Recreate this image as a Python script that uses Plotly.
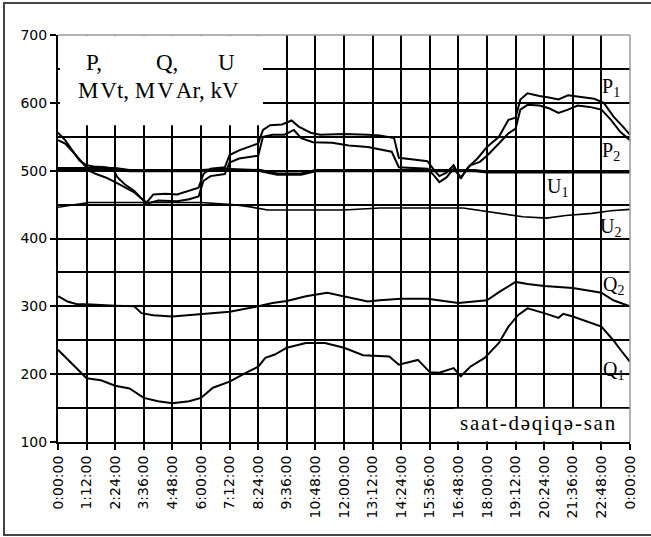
import plotly.graph_objects as go

# time in hours
p1_t = [0, 0.3, 0.6, 0.9, 1.2, 1.5, 2.0, 2.3, 2.5, 2.8, 3.2, 3.5, 3.7, 4.0, 4.5, 5.0, 5.5, 5.9, 6.1, 6.4, 7.0, 7.2, 7.6, 8.0, 8.4, 8.6, 8.9, 9.4, 9.8, 10.1, 10.6, 11.0, 12.0, 13.0, 13.5, 14.1, 14.3, 15.0, 15.5, 15.8, 16.0, 16.3, 16.6, 16.9, 17.2, 17.6, 18.0, 18.5, 18.9, 19.2, 19.4, 19.7, 20.2, 20.6, 21.0, 21.4, 22.0, 22.5, 22.9, 23.3, 23.7, 24.0]
p1_v = [556, 545, 530, 515, 508, 506, 505, 503, 490, 480, 470, 460, 452, 465, 466, 465, 470, 475, 495, 503, 505, 523, 530, 535, 540, 560, 567, 568, 574, 565, 556, 553, 554, 553, 552, 548, 519, 516, 514, 500, 492, 497, 508, 488, 505, 518, 535, 550, 575, 578, 605, 614, 610, 608, 605, 611, 608, 606, 600, 580, 565, 553]

p2_t = [0, 0.3, 0.7, 1.0, 1.3, 1.6, 2.0, 2.4, 2.8, 3.2, 3.6, 3.8, 4.2, 5.0, 5.5, 5.9, 6.1, 6.4, 7.0, 7.2, 7.6, 8.0, 8.4, 8.6, 9.0, 9.5, 9.9, 10.2, 10.7, 11.5, 12.2, 13.0, 13.5, 14.0, 14.3, 15.0, 15.5, 15.8, 16.0, 16.3, 16.6, 16.9, 17.3, 17.7, 18.0, 18.5, 18.9, 19.2, 19.4, 19.7, 20.2, 20.6, 21.0, 21.4, 21.8, 22.3, 22.8, 23.2, 23.6, 24.0]
p2_v = [545, 540, 525, 512, 500, 495, 490, 483, 476, 468, 456, 452, 456, 455, 458, 462, 485, 492, 495, 512, 518, 520, 522, 550, 553, 553, 560, 548, 542, 541, 537, 535, 532, 528, 505, 504, 503, 492, 483, 490, 503, 490, 508, 513, 522, 540, 555, 562, 590, 597, 596, 592, 585, 590, 596, 594, 590, 575, 557, 545]

u1_t = [0, 2.4, 3.0, 6.0, 7.0, 8.5, 9.2, 10.2, 10.8, 14.0, 17.5, 18.0, 24.0]
u1_v = [503, 503, 500, 500, 502, 500, 495, 495, 500, 500, 500, 498, 498]

u2_t = [0, 0.8, 1.3, 6.0, 7.3, 8.0, 8.8, 12.0, 13.5, 17.0, 17.8, 18.6, 19.5, 20.5, 21.3, 22.4, 23.2, 24.0]
u2_v = [446, 450, 453, 453, 450, 447, 442, 442, 445, 445, 441, 436, 432, 430, 434, 437, 441, 443]

q2_t = [0, 0.4, 0.8, 1.2, 2.4, 3.2, 3.5, 4.0, 4.8, 5.5, 6.0, 7.2, 8.4, 9.0, 9.6, 10.4, 11.3, 12.1, 13.0, 13.5, 14.4, 15.5, 16.0, 16.8, 18.0, 18.5, 19.2, 19.7, 20.4, 21.6, 22.8, 23.3, 24.0]
q2_v = [315, 307, 303, 303, 301, 300, 290, 287, 285, 287, 289, 292, 300, 305, 308, 315, 320, 314, 307, 309, 311, 311, 309, 305, 309, 321, 336, 333, 330, 327, 320, 309, 300]

q1_t = [0, 0.4, 0.8, 1.2, 1.8, 2.4, 3.0, 3.6, 4.2, 4.8, 5.5, 6.0, 6.5, 7.2, 8.0, 8.4, 8.7, 9.1, 9.6, 10.4, 11.2, 12.0, 12.8, 13.9, 14.3, 15.1, 15.6, 16.0, 16.6, 16.9, 17.3, 17.9, 18.5, 18.9, 19.3, 19.7, 20.4, 21.0, 21.2, 21.6, 22.8, 23.3, 23.6, 24.0]
q1_v = [236, 222, 208, 194, 191, 183, 179, 165, 160, 157, 160, 165, 180, 189, 204, 211, 224, 229, 239, 246, 246, 239, 228, 226, 214, 221, 203, 202, 209, 197, 211, 224, 246, 270, 287, 297, 290, 283, 289, 285, 270, 250, 236, 218]

x_tickvals = [i * 1.2 for i in range(21)]
x_ticktext = ["0:00:00", "1:12:00", "2:24:00", "3:36:00", "4:48:00", "6:00:00", "7:12:00",
              "8:24:00", "9:36:00", "10:48:00", "12:00:00", "13:12:00", "14:24:00", "15:36:00",
              "16:48:00", "18:00:00", "19:12:00", "20:24:00", "21:36:00", "22:48:00", "0:00:00"]
y_tickvals = [100, 200, 300, 400, 500, 600, 700]

fig = go.Figure()
series = [("P1", p1_t, p1_v, 2), ("P2", p2_t, p2_v, 2), ("U1", u1_t, u1_v, 3.2),
          ("U2", u2_t, u2_v, 1.6), ("Q2", q2_t, q2_v, 2), ("Q1", q1_t, q1_v, 2)]
for name, t, v, w in series:
    fig.add_trace(go.Scatter(x=t, y=v, mode="lines", name=name,
                             line=dict(color="black", width=w), showlegend=False))

serif = "Liberation Serif, Times New Roman, serif"
hs = "\u200a"
ann = [
    ("P,", 1.51, 660, 23), ("Q,", 4.57, 660, 23), ("U", 7.09, 660, 23),
    ("M" + hs + "Vt, M" + hs + "V" + hs + "Ar, kV", 4.2, 618, 23),
    ("P<sub>1</sub>", 23.2, 622, 20), ("P<sub>2</sub>", 23.2, 528, 20),
    ("U<sub>1</sub>", 20.94, 475, 20), ("U<sub>2</sub>", 23.2, 416, 20),
    ("Q<sub>2</sub>", 23.3, 331, 20), ("Q<sub>1</sub>", 23.3, 205, 20),
    (hs.join("saat-dəqiqə-san"), 20.15, 128, 21),
]
for txt, x, y, s in ann:
    fig.add_annotation(x=x, y=y, xref="x", yref="y", text=txt, showarrow=False,
                       font=dict(family=serif, size=s, color="black"),
                       xanchor="center", yanchor="middle")

shapes = [
    dict(type="rect", xref="x", yref="y", x0=0.08, x1=8.6, y0=567, y1=699.3,
         fillcolor="white", line=dict(width=0), layer="between"),
    dict(type="rect", xref="x", yref="y", x0=16.6, x1=23.95, y0=100.8, y1=149.2,
         fillcolor="white", line=dict(width=0), layer="between"),
    dict(type="line", xref="paper", yref="paper", x0=0, x1=1, y0=1, y1=1,
         line=dict(color="#9a9a9a", width=1.5), layer="above"),
    dict(type="line", xref="paper", yref="paper", x0=1, x1=1, y0=0, y1=1,
         line=dict(color="#9a9a9a", width=1.5), layer="above"),
    dict(type="rect", xref="paper", yref="paper", x0=-0.0944, x1=1.05, y0=-0.2285, y1=1.0786,
         line=dict(color="#444", width=2), fillcolor="rgba(0,0,0,0)", layer="above"),
]
fig.update_layout(shapes=shapes)

tickfont = dict(family="DejaVu Sans", size=14, color="black")
fig.update_xaxes(range=[0, 24], tickvals=x_tickvals, ticktext=x_ticktext, tickangle=-90,
                 showgrid=True, gridcolor="black", gridwidth=1.6,
                 showline=True, linecolor="black", linewidth=2,
                 ticks="outside", ticklen=6, tickwidth=1.6, tickcolor="black", tickfont=tickfont,
                 zeroline=False)
fig.update_yaxes(range=[100, 700], tickvals=y_tickvals,
                 showgrid=True, gridcolor="black", gridwidth=1.6,
                 minor=dict(dtick=50, tick0=0, showgrid=True, gridcolor="black", gridwidth=1.6, ticks=""),
                 showline=True, linecolor="black", linewidth=2,
                 ticks="outside", ticklen=6, tickwidth=1.6, tickcolor="black", tickfont=tickfont,
                 zeroline=False)

fig.update_layout(width=651, height=537, margin=dict(l=58, r=21, t=35, b=95),
                  plot_bgcolor="white", paper_bgcolor="white")
fig.write_html("out.html")
